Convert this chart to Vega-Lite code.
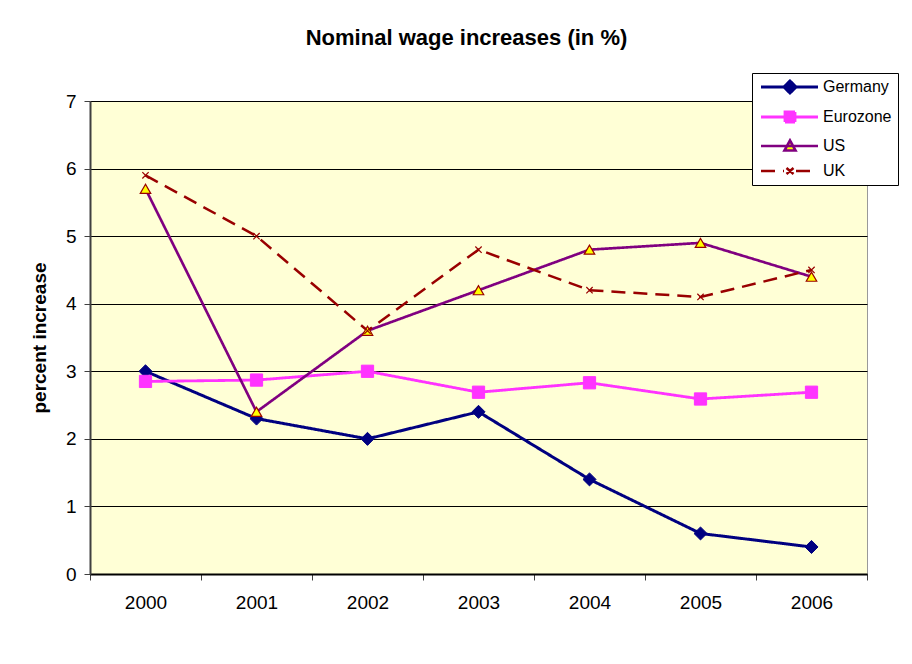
{
  "$schema": "https://vega.github.io/schema/vega-lite/v6.json",
  "autosize": {"type": "none"},
  "width": 777,
  "height": 473,
  "padding": {"left": 90, "top": 101, "right": 45, "bottom": 90},
  "background": "white",
  "config": {
    "font": "Liberation Sans",
    "view": {"fill": "#FFFFD6", "stroke": "#999999", "strokeWidth": 1}
  },
  "title": {
    "text": "Nominal wage increases (in %)",
    "fontSize": 22,
    "fontWeight": "bold",
    "font": "Liberation Sans",
    "color": "black",
    "anchor": "middle",
    "dx": -12,
    "baseline": "alphabetic",
    "offset": 6
  },
  "data": {
    "values": [
      {"year": "2000", "country": "Germany", "value": 3.0},
      {"year": "2001", "country": "Germany", "value": 2.3},
      {"year": "2002", "country": "Germany", "value": 2.0},
      {"year": "2003", "country": "Germany", "value": 2.4},
      {"year": "2004", "country": "Germany", "value": 1.4},
      {"year": "2005", "country": "Germany", "value": 0.6},
      {"year": "2006", "country": "Germany", "value": 0.4},
      {"year": "2000", "country": "Eurozone", "value": 2.85},
      {"year": "2001", "country": "Eurozone", "value": 2.87},
      {"year": "2002", "country": "Eurozone", "value": 3.0},
      {"year": "2003", "country": "Eurozone", "value": 2.69},
      {"year": "2004", "country": "Eurozone", "value": 2.83},
      {"year": "2005", "country": "Eurozone", "value": 2.59},
      {"year": "2006", "country": "Eurozone", "value": 2.69},
      {"year": "2000", "country": "US", "value": 5.7},
      {"year": "2001", "country": "US", "value": 2.4},
      {"year": "2002", "country": "US", "value": 3.6},
      {"year": "2003", "country": "US", "value": 4.2},
      {"year": "2004", "country": "US", "value": 4.8},
      {"year": "2005", "country": "US", "value": 4.9},
      {"year": "2006", "country": "US", "value": 4.4},
      {"year": "2000", "country": "UK", "value": 5.9},
      {"year": "2001", "country": "UK", "value": 5.0},
      {"year": "2002", "country": "UK", "value": 3.6},
      {"year": "2003", "country": "UK", "value": 4.8},
      {"year": "2004", "country": "UK", "value": 4.2},
      {"year": "2005", "country": "UK", "value": 4.1},
      {"year": "2006", "country": "UK", "value": 4.5}
    ]
  },
  "encoding": {
    "x": {
      "field": "year",
      "type": "ordinal",
      "bandPosition": 0.5,
      "scale": {"type": "band", "paddingInner": 0, "paddingOuter": 0},
      "axis": {
        "title": null,
        "labelAngle": 0,
        "labelFontSize": 19,
        "labelColor": "black",
        "labelPadding": 13,
        "tickBand": "extent",
        "tickSize": 6,
        "tickColor": "#404040",
        "domainColor": "black",
        "domainWidth": 2,
        "grid": false
      }
    },
    "y": {
      "field": "value",
      "type": "quantitative",
      "scale": {"domain": [0, 7], "nice": false},
      "axis": {
        "title": "percent increase",
        "titleFontSize": 19,
        "titleFontWeight": "bold",
        "titleColor": "black",
        "titlePadding": 16,
        "values": [0, 1, 2, 3, 4, 5, 6, 7],
        "labelFontSize": 19,
        "labelColor": "black",
        "labelPadding": 8,
        "tickSize": 6,
        "tickColor": "#404040",
        "domainColor": "#404040",
        "domainWidth": 2,
        "grid": true,
        "gridColor": "black",
        "gridWidth": 1,
        "gridOpacity": 1
      }
    }
  },
  "layer": [
    {
      "mark": {"type": "line", "strokeCap": "butt"},
      "encoding": {
        "color": {
          "field": "country",
          "type": "nominal",
          "scale": {
            "domain": ["Germany", "Eurozone", "US", "UK"],
            "range": ["#000080", "#FF33FF", "#800080", "#990000"]
          },
          "legend": {
            "orient": "none",
            "legendX": 662,
            "legendY": -28,
            "title": null,
            "fillColor": "white",
            "strokeColor": "black",
            "padding": 6,
            "labelFontSize": 16,
            "labelColor": "black",
            "labelFont": "Liberation Sans",
            "symbolSize": 100,
            "symbolStrokeWidth": 2.5,
            "labelOffset": 49,
            "rowPadding": 7,
            "encode": {
              "symbols": {
                "update": {
                  "shape": {"signal": "datum.value === 'Germany' ? 'M-1,0H10.4M4.8,-1.2L6,0L4.8,1.2L3.6,0Z' : datum.value === 'Eurozone' ? 'M-1,0H10.4M3.8,-1H5.8V1H3.8Z' : datum.value === 'US' ? 'M-1,0H10.4M4.8,-1.1L5.9,0.9L3.7,0.9Z' : 'M-1,0H3.6M6,0H10.4M4.1,-0.6L5.5,0.6M4.1,0.6L5.5,-0.6'"},
                  "fill": {"signal": "datum.value === 'Germany' ? '#000080' : datum.value === 'Eurozone' ? '#FF33FF' : datum.value === 'US' ? '#FFFF00' : 'transparent'"},
                  "stroke": {"signal": "datum.value === 'Germany' ? '#000080' : datum.value === 'Eurozone' ? '#FF33FF' : datum.value === 'US' ? '#800080' : '#990000'"},
                  "strokeDash": {"value": [1, 0]},
                  "strokeWidth": {"value": 2.5},
                  "opacity": {"value": 1}
                }
              }
            }
          }
        },
        "strokeDash": {
          "field": "country",
          "type": "nominal",
          "scale": {
            "domain": ["Germany", "Eurozone", "US", "UK"],
            "range": [[1, 0], [1, 0], [1, 0], [14, 8]]
          },
          "legend": null
        },
        "strokeWidth": {
          "field": "country",
          "type": "nominal",
          "scale": {
            "domain": ["Germany", "Eurozone", "US", "UK"],
            "range": [3, 2.5, 2.5, 3]
          },
          "legend": null
        }
      }
    },
    {
      "transform": [{"filter": "datum.country === 'Germany'"}],
      "mark": {"type": "point", "shape": "diamond", "filled": true, "opacity": 1, "size": 170, "fill": "#000080", "stroke": "#000080", "strokeWidth": 1}
    },
    {
      "transform": [{"filter": "datum.country === 'Eurozone'"}],
      "mark": {"type": "point", "shape": "square", "filled": true, "opacity": 1, "size": 150, "fill": "#FF33FF", "stroke": "#FF33FF", "strokeWidth": 1}
    },
    {
      "transform": [{"filter": "datum.country === 'US'"}],
      "mark": {"type": "point", "shape": "triangle-up", "filled": true, "opacity": 1, "size": 110, "fill": "#FFFF00", "stroke": "#990000", "strokeWidth": 1.2}
    },
    {
      "transform": [{"filter": "datum.country === 'UK'"}],
      "mark": {"type": "point", "shape": "M-1,-1L1,1M-1,1L1,-1", "filled": false, "opacity": 1, "size": 40, "fill": "transparent", "stroke": "#990000", "strokeWidth": 1.2}
    }
  ]
}
